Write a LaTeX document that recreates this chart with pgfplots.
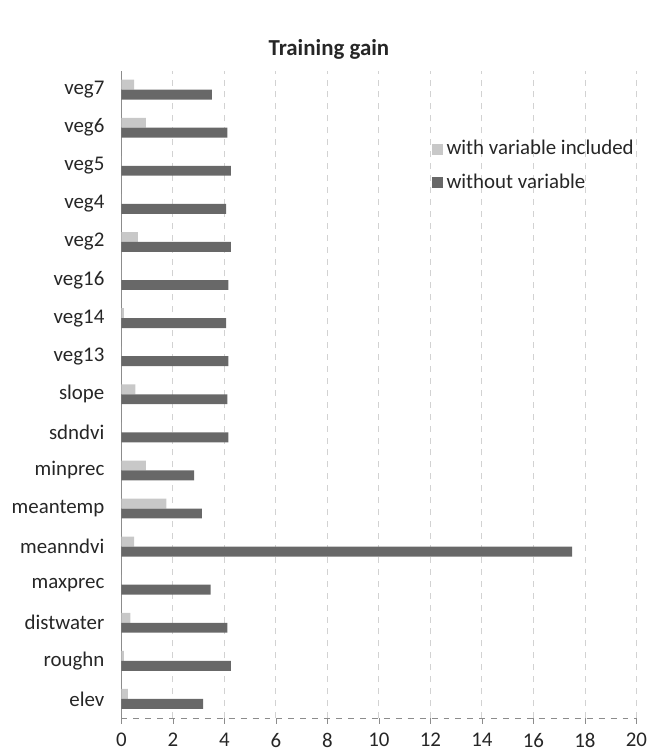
\documentclass[border=0pt]{standalone}
\usepackage{fontspec}
\setmainfont{Carlito}
\usepackage{pgfplots}
\pgfplotsset{compat=1.18}
\usetikzlibrary{calc}

\definecolor{lightbar}{RGB}{200,200,200}
\definecolor{darkbar}{RGB}{104,104,104}
\definecolor{gridgray}{RGB}{210,210,210}
\definecolor{axisgray}{RGB}{140,140,140}

\begin{document}
\begin{tikzpicture}
\begin{axis}[
    name=main,
    scale only axis,
    width=259pt,
    height=325.5pt,
    xbar,
    bar width=5pt,
    xmin=0, xmax=20,
    ymin=-0.5, ymax=16.5,
    xtick={0,2,...,20},
    ytick={0,...,16},
    yticklabels={elev,roughn,distwater,maxprec,meanndvi,meantemp,minprec,sdndvi,slope,veg13,veg14,veg16,veg2,veg4,veg5,veg6,veg7},
    axis lines*=left,
    x axis line style={dashed, axisgray},
    y axis line style={axisgray},
    xtick style={axisgray},
    ytick style={draw=none},
    tick align=outside,
    major tick length=3pt,
    xmajorgrids,
    grid style={dashed, gridgray},
    tick label style={font=\fontsize{10.5}{12}\selectfont, text=black!85},
    /pgf/number format/assume math mode=true,
    yticklabel style={xshift=-2pt},
    xticklabel style={yshift=-1pt},
    title={\textbf{Training gain}},
    title style={at={(0.403,1.014)}, anchor=center, yshift=0pt, font=\fontsize{11.5}{13}\selectfont, text=black!85},
    legend style={at={(0.59,0.905)}, anchor=north west, draw=none, fill=none,
        font=\fontsize{10.5}{12}\selectfont, text=black!85, row sep=4pt,
        legend cell align=left},
    legend image code/.code={\fill[#1] (0pt,-2.75pt) rectangle (5.5pt,2.75pt);},
]
\addplot[fill=lightbar, draw=none, bar shift=2.5pt] coordinates {
(0.25,0) (0.1,1) (0.35,2) (0,3) (0.5,4) (1.75,5) (0.95,6) (0,7) (0.55,8) (0,9) (0.1,10) (0,11) (0.64,12) (0,13) (0,14) (0.95,15) (0.5,16)};
\addplot[fill=darkbar, draw=none, bar shift=-2.5pt] coordinates {
(3.18,0) (4.25,1) (4.12,2) (3.47,3) (17.5,4) (3.13,5) (2.83,6) (4.16,7) (4.12,8) (4.16,9) (4.07,10) (4.16,11) (4.25,12) (4.07,13) (4.25,14) (4.12,15) (3.52,16)};
\legend{with variable included, without variable}
\end{axis}
\path ($(main.south west)+(-61pt,-16pt)$) rectangle ($(main.north east)+(5.5pt,35.5pt)$);
\end{tikzpicture}
\end{document}
